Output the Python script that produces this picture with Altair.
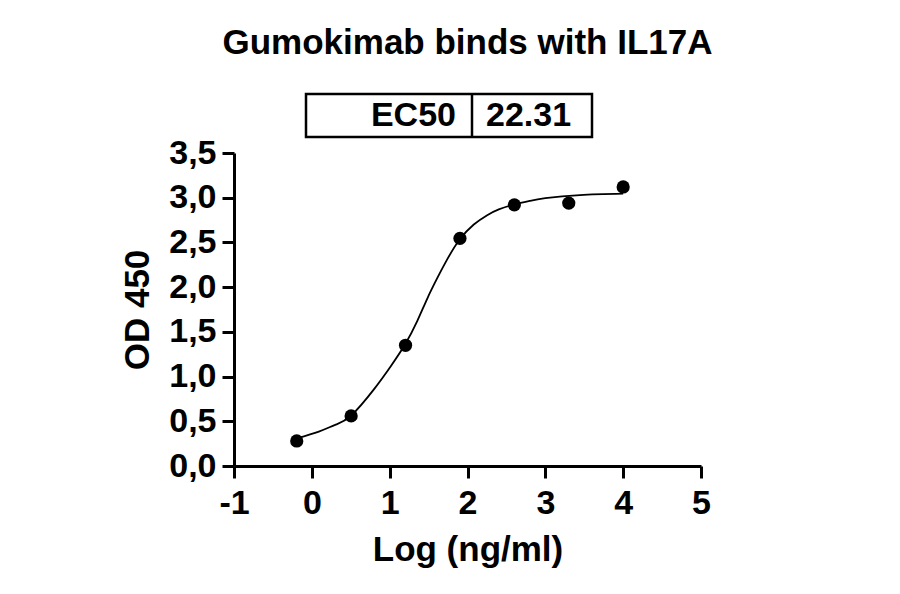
import altair as alt
import pandas as pd

# Measured data points (log10 concentration, OD450)
log_conc = [-0.194, 0.505, 1.204, 1.903, 2.602, 3.301, 4.0]
od450 = [0.28, 0.56, 1.35, 2.545, 2.92, 2.94, 3.12]

# Fitted curve
curve_x = [-0.194, 0.09, 0.3, 0.505, 0.8, 1.01, 1.195, 1.354, 1.482, 1.611, 1.739,
           1.897, 2.081, 2.253, 2.402, 2.602, 2.8, 3.0, 3.445, 4.0]
curve_y = [0.31, 0.385, 0.46, 0.565, 0.86, 1.11, 1.355, 1.62, 1.87, 2.10, 2.31,
           2.53, 2.70, 2.805, 2.87, 2.925, 2.965, 2.995, 3.03, 3.045]

x_ticks = [-1, 0, 1, 2, 3, 4, 5]
y_ticks = [0.0, 0.5, 1.0, 1.5, 2.0, 2.5, 3.0, 3.5]

title_text = "Gumokimab binds with IL17A"
ec50_label = "EC50"
ec50_value = "22.31"

FONT = "Liberation Sans"

pts = pd.DataFrame({"x": log_conc, "y": od450})
crv = pd.DataFrame({"x": curve_x, "y": curve_y})
one = pd.DataFrame({"a": [0]})

xscale = alt.Scale(domain=[-1, 5], nice=False, zero=False)
yscale = alt.Scale(domain=[0, 3.5], nice=False, zero=True)

xaxis = alt.Axis(values=x_ticks, title="Log (ng/ml)",
                 labelExpr="toString(datum.value)",
                 labelFlush=False, labelOverlap=False,
                 labelPadding=8, titlePadding=12, grid=False)
yaxis = alt.Axis(values=y_ticks, title="OD 450", grid=False,
                 labelExpr="replace(format(datum.value, '.1f'), '.', ',')",
                 labelFlush=False, labelOverlap=False,
                 labelPadding=6, titlePadding=13)

line = alt.Chart(crv).mark_line(color="black", strokeWidth=1.8, interpolate="natural").encode(
    x=alt.X("x:Q", scale=xscale, axis=xaxis),
    y=alt.Y("y:Q", scale=yscale, axis=yaxis),
)

points = alt.Chart(pts).mark_point(filled=True, color="black", size=175, opacity=1).encode(
    x=alt.X("x:Q", scale=xscale),
    y=alt.Y("y:Q", scale=yscale),
)

box = alt.Chart(one).mark_rect(fill="white", stroke="black", strokeWidth=2.5).encode(
    x=alt.value(72), x2=alt.value(358), y=alt.value(-59), y2=alt.value(-16)
)
divider = alt.Chart(one).mark_rule(color="black", strokeWidth=2.5).encode(
    x=alt.value(238), y=alt.value(-59), y2=alt.value(-16)
)
lbl = alt.Chart(one).mark_text(text=ec50_label, font=FONT, fontSize=34, fontWeight="bold",
                               align="right", baseline="alphabetic", color="black").encode(
    x=alt.value(222), y=alt.value(-27)
)
val = alt.Chart(one).mark_text(text=ec50_value, font=FONT, fontSize=34, fontWeight="bold",
                               align="left", baseline="alphabetic", color="black").encode(
    x=alt.value(252), y=alt.value(-27)
)
title = alt.Chart(one).mark_text(text=title_text, font=FONT, fontSize=35, fontWeight="bold",
                                 align="center", baseline="alphabetic", color="black").encode(
    x=alt.value(233.5), y=alt.value(-99)
)

chart = alt.layer(line, points, box, divider, lbl, val, title).properties(
    width=467, height=313,
    autosize=alt.AutoSizeParams(type="none"),
    padding={"left": 226, "top": 145, "right": 190, "bottom": 112},
).configure_view(stroke=None).configure_axis(
    labelFont=FONT, titleFont=FONT, labelFontSize=34, titleFontSize=35,
    labelFontWeight="bold", titleFontWeight="bold",
    labelColor="black", titleColor="black",
    domainColor="black", tickColor="black",
    domainWidth=3, tickWidth=3, tickSize=12,
)

chart.save("out.html", embed_options={"renderer": "svg", "actions": False})
